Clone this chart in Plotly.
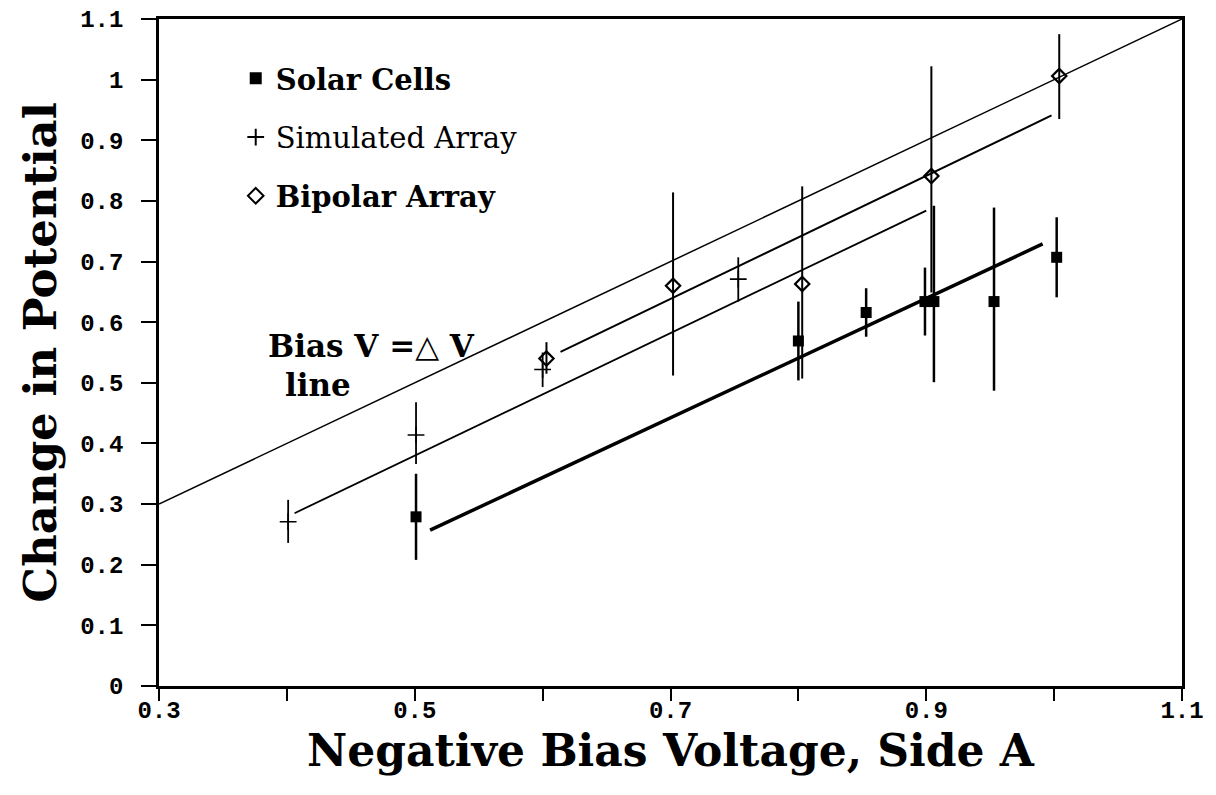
import numpy as np
import plotly.graph_objects as go

# ---- data ----
solar_x = [0.501, 0.800, 0.853, 0.899, 0.906, 0.953, 1.002]
solar_y = [0.279, 0.569, 0.616, 0.634, 0.634, 0.634, 0.707]
solar_hi = [0.350, 0.634, 0.656, 0.690, 0.792, 0.789, 0.773]
solar_lo = [0.208, 0.504, 0.576, 0.578, 0.501, 0.487, 0.641]

sim_x = [0.401, 0.501, 0.600, 0.753]
sim_y = [0.271, 0.414, 0.522, 0.671]
sim_hi = [0.307, 0.468, 0.550, 0.707]
sim_lo = [0.236, 0.366, 0.493, 0.634]

bip_x = [0.603, 0.702, 0.803, 0.904, 1.004]
bip_y = [0.540, 0.660, 0.663, 0.841, 1.006]
bip_hi = [0.567, 0.814, 0.824, 1.022, 1.075]
bip_lo = [0.515, 0.512, 0.507, 0.649, 0.935]

ref_x = [0.3, 1.1]          # Bias V = delta V line
ref_y = [0.3, 1.1]
fit_solar_x = [0.512, 0.991]
fit_solar_y = [0.257, 0.729]
fit_sim_x = [0.406, 0.900]
fit_sim_y = [0.285, 0.784]
fit_bip_x = [0.614, 0.998]
fit_bip_y = [0.551, 0.941]

x_ticks = [0.3, 0.4, 0.5, 0.6, 0.7, 0.8, 0.9, 1.0, 1.1]
x_ticktext = ["0.3", "", "0.5", "", "0.7", "", "0.9", "", "1.1"]
y_ticks = [0, 0.1, 0.2, 0.3, 0.4, 0.5, 0.6, 0.7, 0.8, 0.9, 1.0, 1.1]
y_ticktext = ["0", "0.1", "0.2", "0.3", "0.4", "0.5", "0.6", "0.7", "0.8", "0.9", "1", "1.1"]

SERIF = "DejaVu Serif"
MONO = "Liberation Mono"


def err(y, hi, lo):
    y = np.array(y); hi = np.array(hi); lo = np.array(lo)
    return (hi - y).tolist(), (y - lo).tolist()


fig = go.Figure()

# lines
fig.add_trace(go.Scatter(x=ref_x, y=ref_y, mode="lines", line=dict(color="black", width=1.5),
                         showlegend=False, hoverinfo="skip"))
fig.add_trace(go.Scatter(x=fit_sim_x, y=fit_sim_y, mode="lines", line=dict(color="black", width=1.8),
                         showlegend=False, hoverinfo="skip"))
fig.add_trace(go.Scatter(x=fit_bip_x, y=fit_bip_y, mode="lines", line=dict(color="black", width=2),
                         showlegend=False, hoverinfo="skip"))
fig.add_trace(go.Scatter(x=fit_solar_x, y=fit_solar_y, mode="lines", line=dict(color="black", width=3.5),
                         showlegend=False, hoverinfo="skip"))

p, m = err(solar_y, solar_hi, solar_lo)
fig.add_trace(go.Scatter(x=solar_x, y=solar_y, mode="markers", name="<b>Solar Cells</b>",
                         legendgroup="a",
                         marker=dict(symbol="square", size=11, color="black"),
                         error_y=dict(type="data", symmetric=False, array=p, arrayminus=m,
                                      thickness=2.5, width=0, color="black")))
p, m = err(sim_y, sim_hi, sim_lo)
fig.add_trace(go.Scatter(x=sim_x, y=sim_y, mode="markers", name="Simulated Array",
                         legendgroup="b",
                         marker=dict(symbol="cross-thin", size=12, color="black",
                                     line=dict(color="black", width=1.6)),
                         error_y=dict(type="data", symmetric=False, array=p, arrayminus=m,
                                      thickness=1.8, width=0, color="black")))
p, m = err(bip_y, bip_hi, bip_lo)
fig.add_trace(go.Scatter(x=bip_x, y=bip_y, mode="markers", name="<b>Bipolar Array</b>",
                         legendgroup="c",
                         marker=dict(symbol="diamond-open", size=11, color="black",
                                     line=dict(color="black", width=2.2)),
                         error_y=dict(type="data", symmetric=False, array=p, arrayminus=m,
                                      thickness=2, width=0, color="black")))

fig.add_annotation(x=0.466, y=0.560, xref="x", yref="y", text="<b>Bias V =\u25b3 V</b>",
                   showarrow=False, font=dict(family=SERIF, size=31, color="black"))
fig.add_annotation(x=0.424, y=0.497, xref="x", yref="y", text="<b>line</b>",
                   showarrow=False, font=dict(family=SERIF, size=31, color="black"))

fig.update_layout(
    width=1216, height=795,
    margin=dict(l=151, r=42, t=11, b=117, autoexpand=False),
    paper_bgcolor="white", plot_bgcolor="white",
    legend=dict(x=0.075, y=0.949, xanchor="left", yanchor="top",
                font=dict(family=SERIF, size=29, color="black"),
                bgcolor="rgba(0,0,0,0)", traceorder="grouped", tracegroupgap=18,
                itemsizing="constant"),
    xaxis=dict(range=[0.3, 1.1], tickvals=x_ticks, ticktext=x_ticktext,
               ticks="outside", ticklen=12, tickwidth=2, tickcolor="black",
               showline=True, linewidth=2.5, linecolor="black", mirror=True,
               showgrid=False, zeroline=False, automargin=False,
               ticklabelstandoff=-12, ticklabeloverflow="allow",
               tickfont=dict(family=MONO, size=24, color="black", weight="bold"),
               title=dict(text="<b>Negative Bias Voltage, Side A</b>", standoff=10,
                          font=dict(family=SERIF, size=44, color="black"))),
    yaxis=dict(range=[0, 1.1], tickvals=y_ticks, ticktext=y_ticktext,
               ticks="outside", ticklen=15, tickwidth=2, tickcolor="black",
               showline=True, linewidth=2.5, linecolor="black", mirror=True,
               showgrid=False, zeroline=False, automargin=False,
               ticklabelstandoff=13, ticklabeloverflow="allow",
               tickfont=dict(family=MONO, size=24, color="black", weight="bold"),
               title=dict(text="<b>Change in Potential</b>", standoff=10,
                          font=dict(family=SERIF, size=45, color="black"))),
)

fig.write_html("out.html")
